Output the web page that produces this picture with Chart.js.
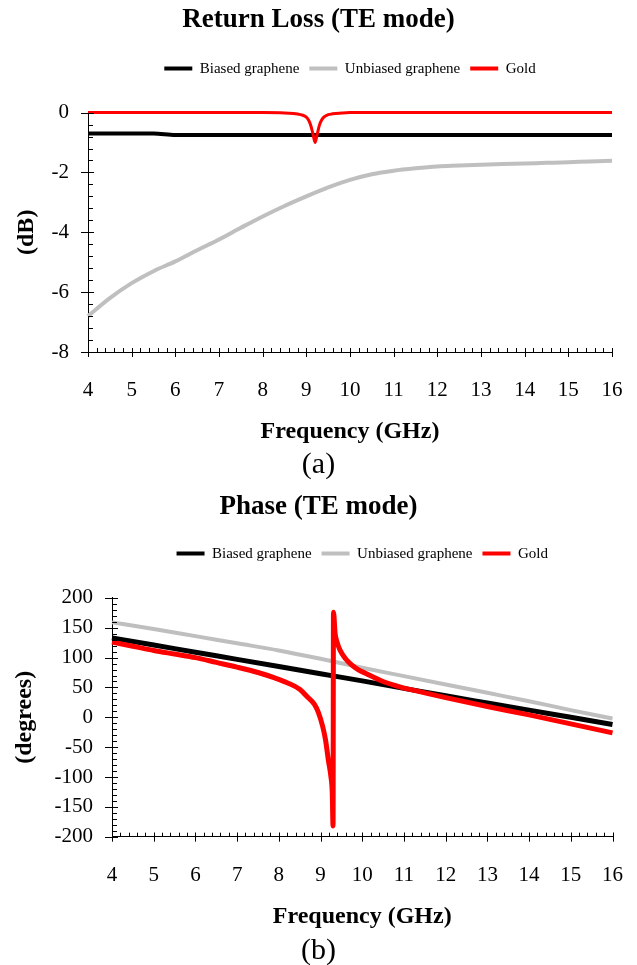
<!DOCTYPE html>
<html>
<head>
<meta charset="utf-8">
<script src="https://cdn.jsdelivr.net/npm/chart.js@4.4.0/dist/chart.umd.min.js"></script>
<style>
  body { margin: 0; background: #fff; width: 637px; height: 965px; position: relative; overflow: hidden; font-family: "Liberation Serif", serif; }
  canvas { position: absolute; left: 0; }
  #chartA { top: 0; }
  #chartB { top: 480px; }
  .cap { position: absolute; left: 0; width: 637px; text-align: center; font-size: 30px; line-height: 34px; color: #000; }
</style>
</head>
<body>
<canvas id="chartA" width="637" height="450"></canvas>
<div class="cap" style="top:446px">(a)</div>
<canvas id="chartB" width="637" height="455"></canvas>
<div class="cap" style="top:932px">(b)</div>

<script>
// (a) return loss, dB
var rlFreq = [4, 4.5, 5, 5.5, 6, 6.5, 7, 7.5, 8, 8.5, 9, 9.5, 10, 10.5, 11, 11.5, 12, 12.5, 13, 13.5, 14, 14.5, 15, 15.5, 16];
var rlBiased = [-0.70, -0.70, -0.70, -0.70, -0.75, -0.75, -0.75, -0.75, -0.75, -0.75, -0.75, -0.75, -0.75, -0.75, -0.75, -0.75, -0.75, -0.75, -0.75, -0.75, -0.75, -0.75, -0.75, -0.75, -0.75];
var rlUnbiased = [-6.8, -6.2, -5.7, -5.3, -4.97, -4.6, -4.24, -3.85, -3.47, -3.12, -2.8, -2.5, -2.25, -2.06, -1.94, -1.86, -1.8, -1.77, -1.74, -1.72, -1.7, -1.68, -1.66, -1.63, -1.61];
var rlGoldFreq = [4, 5, 6, 7, 8, 8.5, 8.7, 8.8, 8.9, 9.0, 9.05, 9.1, 9.15, 9.2, 9.25, 9.3, 9.35, 9.4, 9.5, 9.6, 9.8, 10, 11, 12, 13, 14, 15, 16];
var rlGold = [0, 0, 0, 0, 0, -0.01, -0.03, -0.05, -0.08, -0.15, -0.25, -0.42, -0.7, -1.0, -0.72, -0.42, -0.25, -0.15, -0.07, -0.04, -0.015, 0, 0, 0, 0, 0, 0, 0];

// (b) phase, degrees
var phFreq = [4, 5, 6, 7, 8, 9, 10, 11, 12, 13, 14, 15, 16];
var phBiased = [133, 121, 109, 97, 85, 73, 61, 48.5, 36, 24, 12, 0, -12];
var phUnbiased = [159, 148, 136, 124, 112, 98, 83, 69, 55, 41, 27, 12, -2];
var phGoldFreq = [4, 4.5, 5, 5.5, 6, 6.5, 7, 7.5, 7.9, 8.2, 8.5, 8.7, 8.85, 8.95, 9.05, 9.12, 9.19, 9.25, 9.28, 9.30, 9.31, 9.35, 9.4, 9.47, 9.6, 9.71, 9.9, 10.1, 10.5, 10.9, 11.5, 12, 13, 14, 15, 16];
var phGold = [126, 119, 112, 106, 100, 92, 84, 75, 66, 58, 47, 33, 22, 8, -15, -38, -73, -100, -125, -182, 176, 140, 125, 112, 98, 90, 80, 73, 60, 51, 41, 33, 18, 4, -11, -26];

var seriesNames = ['Biased graphene', 'Unbiased graphene', 'Gold'];
var seriesColors = ['#000000', '#bfbfbf', '#ff0000'];

Chart.defaults.font.family = '"Liberation Serif", "Times New Roman", serif';
Chart.defaults.color = '#000';

function toPoints(xs, ys) {
  return xs.map(function(x, i) { return {x: x, y: ys[i]}; });
}

// minor ticks inside, major ticks across the axis
var axisTicks = {
  id: 'axisTicks',
  afterDraw: function(chart, args, opts) {
    var ctx = chart.ctx, xs = chart.scales.x, ys = chart.scales.y, a = chart.chartArea;
    ctx.save();
    ctx.strokeStyle = '#000';
    ctx.lineWidth = 1;
    ctx.beginPath();
    var n = Math.round((xs.max - xs.min) / opts.xMinor);
    for (var i = 0; i <= n; i++) {
      var px = Math.round(xs.getPixelForValue(xs.min + i * opts.xMinor)) + 0.5;
      ctx.moveTo(px, a.bottom); ctx.lineTo(px, a.bottom - 4);
    }
    xs.ticks.forEach(function(t) {
      var px = Math.round(xs.getPixelForValue(t.value)) + 0.5;
      ctx.moveTo(px, a.bottom - 4); ctx.lineTo(px, a.bottom + 5);
    });
    var m = Math.round((ys.max - ys.min) / opts.yMinor);
    for (var j = 0; j <= m; j++) {
      var py = Math.round(ys.getPixelForValue(ys.min + j * opts.yMinor)) + 0.5;
      ctx.moveTo(a.left, py); ctx.lineTo(a.left + 5, py);
    }
    ys.ticks.forEach(function(t) {
      var py = Math.round(ys.getPixelForValue(t.value)) + 0.5;
      ctx.moveTo(a.left - 7, py); ctx.lineTo(a.left + 6, py);
    });
    ctx.stroke();
    ctx.restore();
  }
};

// fixed legend height, legend centred over the plot, title centred on the page
var legendBox = {
  id: 'legendBox',
  beforeLayout: function(chart, args, opts) {
    var lg = chart.legend;
    if (lg && !lg._patched) {
      var fit = lg.fit;
      lg.fit = function() { fit.call(this); this.height = opts.height; };
      lg._patched = true;
    }
  },
  afterLayout: function(chart) {
    chart.legend.left = chart.chartArea.left;
    chart.legend.right = chart.chartArea.right;
    chart.titleBlock.left = 0;
    chart.titleBlock.right = chart.width;
  }
};

function makeChart(id, cfg) {
  var sets = cfg.series.map(function(s, i) {
    return {
      label: seriesNames[i],
      data: s,
      borderColor: seriesColors[i],
      backgroundColor: seriesColors[i],
      borderWidth: cfg.widths[i],
      pointRadius: 0,
      cubicInterpolationMode: 'monotone',
      clip: false,
      order: [1, 2, 0][i]
    };
  });

  return new Chart(document.getElementById(id), {
    type: 'line',
    data: { datasets: sets },
    options: {
      responsive: false,
      animation: false,
      devicePixelRatio: 1,
      layout: { padding: { left: 0, right: cfg.padRight, top: 0, bottom: 0 } },
      plugins: {
        title: {
          display: true,
          text: cfg.title,
          font: { size: 27, weight: 'bold' },
          padding: { top: cfg.titleTop, bottom: cfg.titleBottom }
        },
        legend: {
          labels: {
            boxWidth: 28,
            boxHeight: 4,
            padding: 10,
            font: { size: 15 },
            sort: function(a, b) { return a.datasetIndex - b.datasetIndex; },
            generateLabels: function(chart) {
              return Chart.defaults.plugins.legend.labels.generateLabels(chart).map(function(l) {
                l.lineWidth = 0;
                return l;
              });
            }
          }
        },
        tooltip: { enabled: false },
        legendBox: { height: cfg.legendHeight },
        axisTicks: { xMinor: 0.2, yMinor: cfg.yMinor }
      },
      scales: {
        x: {
          type: 'linear',
          min: 4,
          max: 16,
          grid: { display: false, drawTicks: false },
          border: { display: true, color: '#000', width: 1 },
          ticks: { stepSize: 1, padding: 26, font: { size: 21 } },
          title: { display: true, text: 'Frequency (GHz)', font: { size: 24, weight: 'bold' }, padding: { top: 0, bottom: 4 } },
          afterFit: function(s) {
            s.height = cfg.xHeight;
            s.paddingLeft = 0;
            s.paddingRight = 0;
          }
        },
        y: {
          min: cfg.yMin,
          max: cfg.yMax,
          grid: { display: false, drawTicks: false },
          border: { display: true, color: '#000', width: 1 },
          ticks: { stepSize: cfg.yStep, padding: 19, font: { size: 21 } },
          title: { display: true, text: cfg.yTitle, font: { size: 24, weight: 'bold' }, padding: { top: cfg.yTitlePad, bottom: 0 } },
          afterFit: function(s) { s.width = cfg.yWidth; }
        }
      }
    },
    plugins: [axisTicks, legendBox]
  });
}

makeChart('chartA', {
  title: 'Return Loss (TE mode)',
  series: [toPoints(rlFreq, rlBiased), toPoints(rlFreq, rlUnbiased), toPoints(rlGoldFreq, rlGold)],
  widths: [4, 4, 3],
  yMin: -8, yMax: 0, yStep: 2, yMinor: 0.4,
  yTitle: '(dB)', yTitlePad: 12.6,
  titleTop: 3.8, titleBottom: 14.9, legendHeight: 61.5,
  xHeight: 98, yWidth: 88, padRight: 25
});

makeChart('chartB', {
  title: 'Phase (TE mode)',
  series: [toPoints(phFreq, phBiased), toPoints(phFreq, phUnbiased), toPoints(phGoldFreq, phGold)],
  widths: [5, 4, 5],
  yMin: -200, yMax: 200, yStep: 50, yMinor: 10,
  yTitle: '(degrees)', yTitlePad: 10.6,
  titleTop: 10.8, titleBottom: 12.9, legendHeight: 61.8,
  xHeight: 98.3, yWidth: 112, padRight: 24.5
});
</script>
</body>
</html>
